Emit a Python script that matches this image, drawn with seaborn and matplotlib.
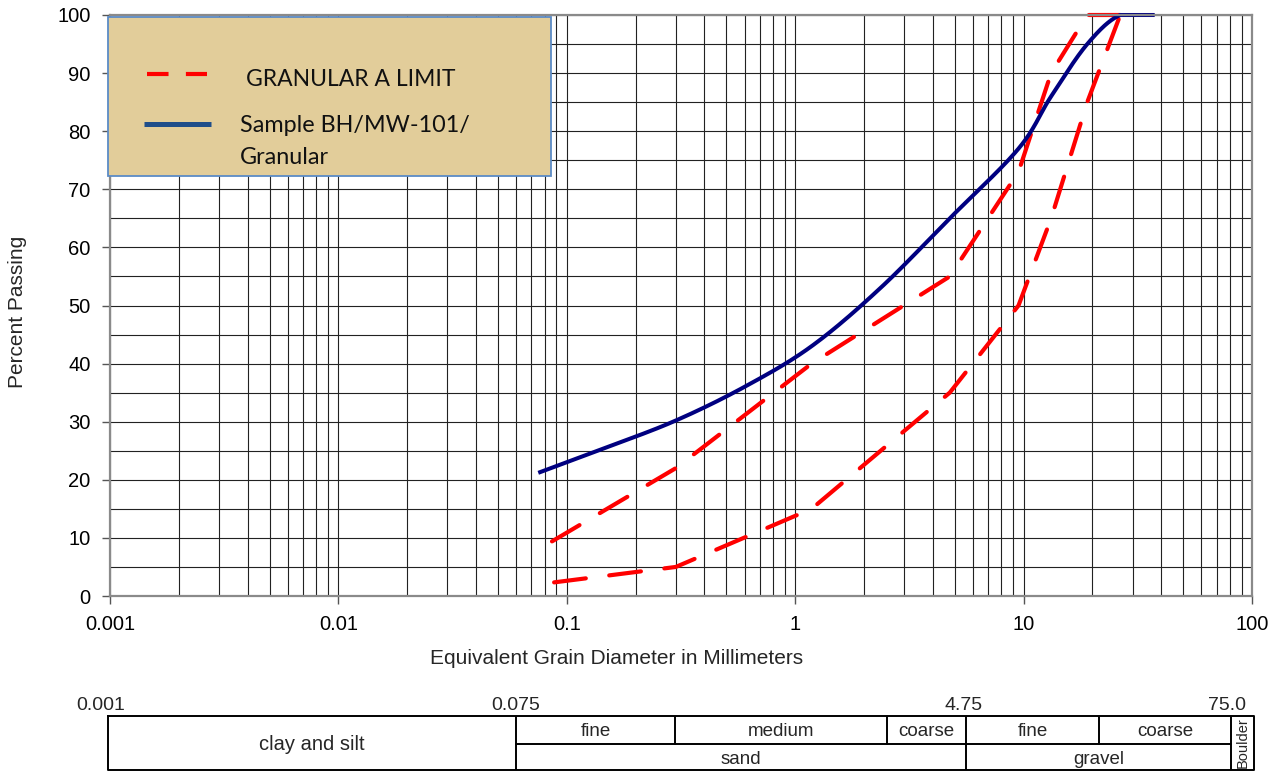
import numpy as np
import pandas as pd
import matplotlib
matplotlib.use("Agg")
import matplotlib.pyplot as plt
from matplotlib.ticker import LogLocator, MultipleLocator, FixedLocator, NullFormatter
from matplotlib.lines import Line2D
from matplotlib.patches import Rectangle
import seaborn as sns

# Granular A gradation envelope (sieve size in mm, percent passing)
limit_sizes = [0.075, 0.3, 1.18, 4.75, 9.5, 13.2, 19.0, 26.5]
limit_fine = [8, 22, 40, 55, 73, 90, 100, 100]
limit_coarse = [2, 5, 15, 35, 50, 65, 85, 100]

# Sample BH/MW-101 sieve analysis
sample_sizes = [0.075, 0.15, 0.3, 0.6, 1.18, 2.36, 4.75, 9.5, 13.2, 19.0, 26.5, 37.5]
sample_passing = [21.2, 25.6, 30.2, 36.0, 43.0, 53.0, 65.0, 77.0, 86.0, 95.0, 100.0, 100.0]

x_ticks = [0.001, 0.01, 0.1, 1, 10, 100]
x_tick_labels = ["0.001", "0.01", "0.1", "1", "10", "100"]
y_ticks = list(range(0, 101, 10))

legend_limit = "GRANULAR A LIMIT"
legend_sample = ["Sample BH/MW-101/", "Granular"]

# soil classification strip
class_bounds = ["0.001", "0.075", "4.75", "75.0"]
sub_classes = ["fine", "medium", "coarse", "fine", "coarse"]
main_classes = ["sand", "gravel"]


def smooth_log_curve(xs, ys, n=40):
    """Catmull-Rom smoothing in (log10 x, y) space, capped at 100 %."""
    u = np.log10(np.asarray(xs, float))
    v = np.asarray(ys, float)
    pu = np.concatenate([[2 * u[0] - u[1]], u, [2 * u[-1] - u[-2]]])
    pv = np.concatenate([[2 * v[0] - v[1]], v, [2 * v[-1] - v[-2]]])
    out_u, out_v = [], []
    t = np.linspace(0, 1, n, endpoint=False)
    for i in range(1, len(pu) - 2):
        for p, out in ((pu, out_u), (pv, out_v)):
            p0, p1, p2, p3 = p[i - 1], p[i], p[i + 1], p[i + 2]
            out.extend(0.5 * (2 * p1 + (-p0 + p2) * t
                              + (2 * p0 - 5 * p1 + 4 * p2 - p3) * t ** 2
                              + (-p0 + 3 * p1 - 3 * p2 + p3) * t ** 3))
    out_u.append(u[-1])
    out_v.append(v[-1])
    return 10 ** np.array(out_u), np.minimum(np.array(out_v), 100.0)


sns.set_theme(style="white")
plt.rcParams["font.family"] = ["Liberation Sans", "DejaVu Sans"]
plt.rcParams["lines.scale_dashes"] = False

W, H = 1280, 771
fig = plt.figure(figsize=(W / 100, H / 100), dpi=100)
ax = fig.add_axes([110 / W, 1 - 596 / H, 1142 / W, 581 / H])

ax.set_xscale("log")
ax.set_xlim(0.001, 100)
ax.set_ylim(0, 100)

# grid: every log subdivision and every 5 %
ax.xaxis.set_major_locator(FixedLocator(x_ticks))
ax.xaxis.set_minor_locator(LogLocator(base=10, subs=range(2, 10), numticks=50))
ax.xaxis.set_minor_formatter(NullFormatter())
ax.set_xticklabels(x_tick_labels)
ax.yaxis.set_major_locator(FixedLocator(y_ticks))
ax.yaxis.set_minor_locator(MultipleLocator(5))
ax.grid(which="both", axis="both", color="#222222", linewidth=0.8)
ax.tick_params(which="major", direction="out", length=6, width=1.0, color="#555555",
               labelsize=14.5, pad=8, bottom=True, left=True, labelcolor="black")
ax.tick_params(which="minor", length=0)
for s in ax.spines.values():
    s.set_color("#8a8a8a")
    s.set_linewidth(1.6)
    s.set_zorder(5)

# envelope limits
dash = (28.5, (23, 17))
for vals in (limit_fine, limit_coarse):
    df = pd.DataFrame({"size": limit_sizes, "passing": vals})
    sns.lineplot(data=df, x="size", y="passing", ax=ax, color="#ff0000",
                 linewidth=3.0, sort=False, estimator=None, clip_on=False, zorder=3)
    ln = ax.lines[-1]
    ln.set_linestyle(dash)
    ln.set_dash_capstyle("round")

# sample curve
sx, sy = smooth_log_curve(sample_sizes, sample_passing)
sns.lineplot(x=sx, y=sy, ax=ax, color="#000080", linewidth=2.9, sort=False,
             estimator=None, clip_on=False, zorder=4)
ax.lines[-1].set_solid_capstyle("butt")

ax.set_xlabel("")
ax.set_ylabel("")
fig.text(617 / W, 1 - 658 / H, "Equivalent Grain Diameter in Millimeters",
         ha="center", va="center", fontsize=15)
fig.text(18 / W, 1 - 312 / H, "Percent Passing", rotation=90,
         ha="center", va="center", fontsize=15)

# legend panel
def ax_pt(px, py):
    return (px - 110) / 1142, (596 - py) / 581

x0, y0 = ax_pt(108, 176)
x1, y1 = ax_pt(551, 17)
ax.add_patch(Rectangle((x0, y0), x1 - x0, y1 - y0, transform=ax.transAxes,
                       facecolor="#e2cd9a", edgecolor="#5b8bc6", linewidth=1.3,
                       zorder=6, clip_on=False))
a, b = ax_pt(147, 74)
c, _ = ax_pt(207, 74)
ax.add_line(Line2D([a, c], [b, b], transform=ax.transAxes, color="#ff0000",
                   linewidth=3.0, linestyle=(0, (15.5, 12.5)),
                   dash_capstyle="butt", zorder=7, clip_on=False))
a, b = ax_pt(144, 124)
c, _ = ax_pt(211, 124)
ax.add_line(Line2D([a, c], [b, b], transform=ax.transAxes, color="#1f4e8a",
                   linewidth=3.6, solid_capstyle="butt", zorder=7, clip_on=False))
lf = ["Lato", "DejaVu Sans"]
tx, ty = ax_pt(246, 79)
ax.text(tx, ty, legend_limit, transform=ax.transAxes, ha="left", va="center",
        fontsize=16.5, family=lf, color="#111111", zorder=8)
tx, ty = ax_pt(240, 125)
ax.text(tx, ty, legend_sample[0], transform=ax.transAxes, ha="left", va="center",
        fontsize=16.8, family=lf, color="#111111", zorder=8)
tx, ty = ax_pt(240, 158)
ax.text(tx, ty, legend_sample[1], transform=ax.transAxes, ha="left", va="center",
        fontsize=16.8, family=lf, color="#111111", zorder=8)

# classification strip below the chart
tl, tr = 108, 1254
ttop, tbot = 716, 770
tax = fig.add_axes([tl / W, 1 - tbot / H, (tr - tl) / W, (tbot - ttop) / H])
tax.set_xlim(tl, tr)
tax.set_ylim(tbot, ttop)
tax.axis("off")
edges = [516, 675, 887, 966, 1099, 1231]
mid = 744
lw = 1.4
tax.plot([tl, tr, tr, tl, tl], [ttop, ttop, tbot, tbot, ttop], color="black",
         linewidth=lw, clip_on=False)
tax.plot([edges[0], edges[-1]], [mid, mid], color="black", linewidth=lw)
tax.plot([edges[0], edges[0]], [ttop, tbot], color="black", linewidth=lw)
tax.plot([edges[3], edges[3]], [ttop, tbot], color="black", linewidth=lw)
tax.plot([edges[-1], edges[-1]], [ttop, tbot], color="black", linewidth=lw)
for e in (edges[1], edges[2], edges[4]):
    tax.plot([e, e], [ttop, mid], color="black", linewidth=lw)

tax.text((tl + edges[0]) / 2, (ttop + tbot) / 2 + 1, "clay and silt",
         ha="center", va="center", fontsize=14.5)
for i, name in enumerate(sub_classes):
    tax.text((edges[i] + edges[i + 1]) / 2, (ttop + mid) / 2 + 1, name,
             ha="center", va="center", fontsize=13.5)
tax.text((edges[0] + edges[3]) / 2, (mid + tbot) / 2 + 2, main_classes[0],
         ha="center", va="center", fontsize=13.5)
tax.text((edges[3] + edges[5]) / 2, (mid + tbot) / 2 + 2, main_classes[1],
         ha="center", va="center", fontsize=13.5)
tax.text((edges[5] + tr) / 2, (ttop + tbot) / 2, "Boulder", rotation=90,
         ha="center", va="center", fontsize=10.5)

label_x = [101, 516, 964, 1227]
for lx, txt in zip(label_x, class_bounds):
    fig.text(lx / W, 1 - 705 / H, txt, ha="center", va="center", fontsize=14)

fig.savefig("out.png", dpi=100)
